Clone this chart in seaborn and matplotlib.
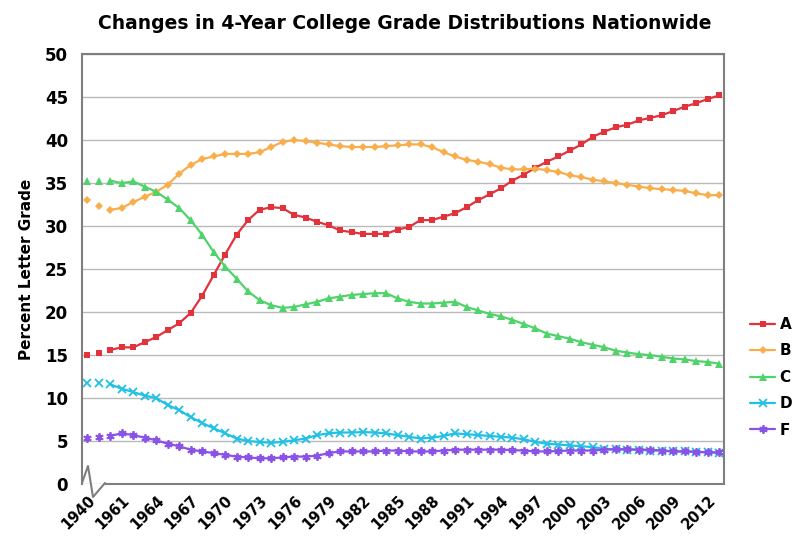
import numpy as np
import pandas as pd
import seaborn as sns
import matplotlib.pyplot as plt
from matplotlib.lines import Line2D

years = ["1940", "1950", "1960"] + [str(y) for y in range(1961, 2014)]
grades = ["A", "B", "C", "D", "F"]

grade_a = [15.0, 15.3, 15.6, 15.9, 15.9, 16.5, 17.1, 17.9, 18.7, 19.9, 21.9, 24.3, 26.7, 29.0,
           30.7, 31.9, 32.2, 32.1, 31.3, 31.0, 30.5, 30.1, 29.5, 29.3, 29.1, 29.1, 29.1, 29.6,
           29.9, 30.7, 30.7, 31.1, 31.5, 32.2, 33.0, 33.7, 34.4, 35.3, 36.0, 36.8, 37.5, 38.1,
           38.8, 39.5, 40.4, 41.0, 41.5, 41.8, 42.3, 42.6, 42.9, 43.4, 43.9, 44.3, 44.8, 45.2]
grade_b = [33.0, 32.3, 31.9, 32.1, 32.8, 33.4, 34.0, 34.8, 36.1, 37.1, 37.8, 38.1, 38.4, 38.4,
           38.4, 38.6, 39.2, 39.8, 40.0, 39.9, 39.7, 39.5, 39.3, 39.2, 39.2, 39.2, 39.3, 39.4,
           39.5, 39.5, 39.2, 38.6, 38.1, 37.7, 37.5, 37.2, 36.8, 36.6, 36.6, 36.7, 36.5, 36.3,
           35.9, 35.7, 35.4, 35.2, 35.0, 34.8, 34.6, 34.4, 34.3, 34.2, 34.1, 33.8, 33.6, 33.6]
grade_c = [35.2, 35.2, 35.3, 35.0, 35.2, 34.6, 34.0, 33.1, 32.1, 30.7, 29.0, 27.0, 25.3, 23.9,
           22.4, 21.4, 20.8, 20.5, 20.6, 20.9, 21.2, 21.6, 21.8, 22.0, 22.1, 22.2, 22.2, 21.6,
           21.2, 21.0, 21.0, 21.1, 21.2, 20.6, 20.2, 19.8, 19.5, 19.1, 18.6, 18.1, 17.5, 17.2,
           16.9, 16.5, 16.2, 15.9, 15.5, 15.3, 15.1, 15.0, 14.8, 14.6, 14.5, 14.3, 14.2, 14.0]
grade_d = [11.7, 11.7, 11.6, 11.1, 10.7, 10.3, 10.0, 9.2, 8.6, 7.8, 7.1, 6.5, 5.9, 5.3,
           5.0, 4.9, 4.8, 4.9, 5.1, 5.3, 5.7, 5.9, 6.0, 6.0, 6.05, 6.0, 5.9, 5.7,
           5.5, 5.3, 5.4, 5.6, 5.9, 5.8, 5.7, 5.6, 5.5, 5.4, 5.2, 4.9, 4.7, 4.6,
           4.5, 4.4, 4.3, 4.1, 4.05, 4.0, 4.0, 3.9, 3.9, 3.8, 3.8, 3.75, 3.7, 3.6]
grade_f = [5.4, 5.5, 5.6, 5.9, 5.7, 5.4, 5.1, 4.7, 4.4, 4.0, 3.8, 3.6, 3.4, 3.2,
           3.1, 3.0, 3.0, 3.1, 3.2, 3.2, 3.3, 3.6, 3.8, 3.8, 3.8, 3.8, 3.9, 3.9,
           3.8, 3.8, 3.8, 3.9, 4.0, 4.0, 4.0, 4.0, 4.0, 3.95, 3.9, 3.8, 3.8, 3.85,
           3.9, 3.9, 3.9, 4.0, 4.05, 4.05, 4.0, 4.0, 3.9, 3.8, 3.8, 3.75, 3.7, 3.7]

series = {"A": grade_a, "B": grade_b, "C": grade_c, "D": grade_d, "F": grade_f}
colors = {"A": "#e2333c", "B": "#f9ae4c", "C": "#4fd36a", "D": "#22c0e4", "F": "#8a52e6"}
markers = {"A": "s", "B": "D", "C": "^", "D": "x", "F": (6, 2, 0)}
msizes = {"A": 5, "B": 4.5, "C": 5.5, "D": 5.5, "F": 6}

sns.set_style("white")
plt.rcParams["font.family"] = ["DejaVu Sans"]
plt.rcParams["text.color"] = "black"
plt.rcParams["axes.labelcolor"] = "black"
plt.rcParams["xtick.color"] = "black"
plt.rcParams["ytick.color"] = "black"

fig = plt.figure(figsize=(8, 5.47), dpi=100)
ax = fig.add_axes([0.1025, 0.115, 0.8025, 0.786])

pos = np.arange(len(years))
for g in grades:
    df = pd.DataFrame({"pos": pos, "value": series[g]})
    vals = df.iloc[2:]
    mew = 1.3 if g in ("D", "F") else 0
    sns.lineplot(data=vals, x="pos", y="value", ax=ax, color=colors[g], linewidth=1.6,
                 marker=markers[g], markersize=msizes[g], markeredgewidth=mew,
                 markeredgecolor=colors[g], label=g)
    first = df.iloc[:2]
    ax.plot(first["pos"], first["value"], linestyle="none", marker=markers[g],
            markersize=msizes[g], markeredgewidth=mew, markeredgecolor=colors[g],
            color=colors[g])

ax.set_xlim(-0.45, 55.4)
ax.set_ylim(0, 50)
ax.set_yticks(range(0, 51, 5))
ax.yaxis.grid(True, color="#bbbbbb", linewidth=1)
ax.set_axisbelow(True)

ticks = pos[::3]
ax.set_xticks(ticks)
ax.set_xticklabels([years[i] for i in ticks], rotation=45, ha="right",
                   rotation_mode="anchor", fontweight="bold", fontsize=10.5)
for lab in ax.get_yticklabels():
    lab.set_fontweight("bold")
    lab.set_fontsize(12)
ax.tick_params(axis="both", length=0)
ax.tick_params(axis="y", pad=10)
ax.tick_params(axis="x", pad=6)

ax.set_xlabel("")
ax.set_ylabel("Percent Letter Grade", fontweight="bold", fontsize=11, labelpad=8)

for side in ["left", "right", "top", "bottom"]:
    ax.spines[side].set_color("#7f7f7f")
    ax.spines[side].set_linewidth(1.5)
ax.spines["bottom"].set_bounds(1.6, 55.4)

# axis break mark
bx = np.array([82, 88, 93, 105]) / 800
by = 1 - np.array([483, 466, 497, 483]) / 547
fig.add_artist(Line2D(bx, by, color="#7f7f7f", linewidth=1.5, transform=fig.transFigure))

fig.suptitle("Changes in 4-Year College Grade Distributions Nationwide",
             fontweight="bold", fontsize=13.5, x=0.506, y=0.975)

leg = ax.legend(loc="center left", bbox_to_anchor=(0.938, 0.31),
                bbox_transform=fig.transFigure, frameon=False, handlelength=1.6,
                labelspacing=0.75, handletextpad=0.3, borderpad=0, borderaxespad=0,
                prop={"weight": "bold", "size": 11})

fig.savefig("out.png", dpi=100)
